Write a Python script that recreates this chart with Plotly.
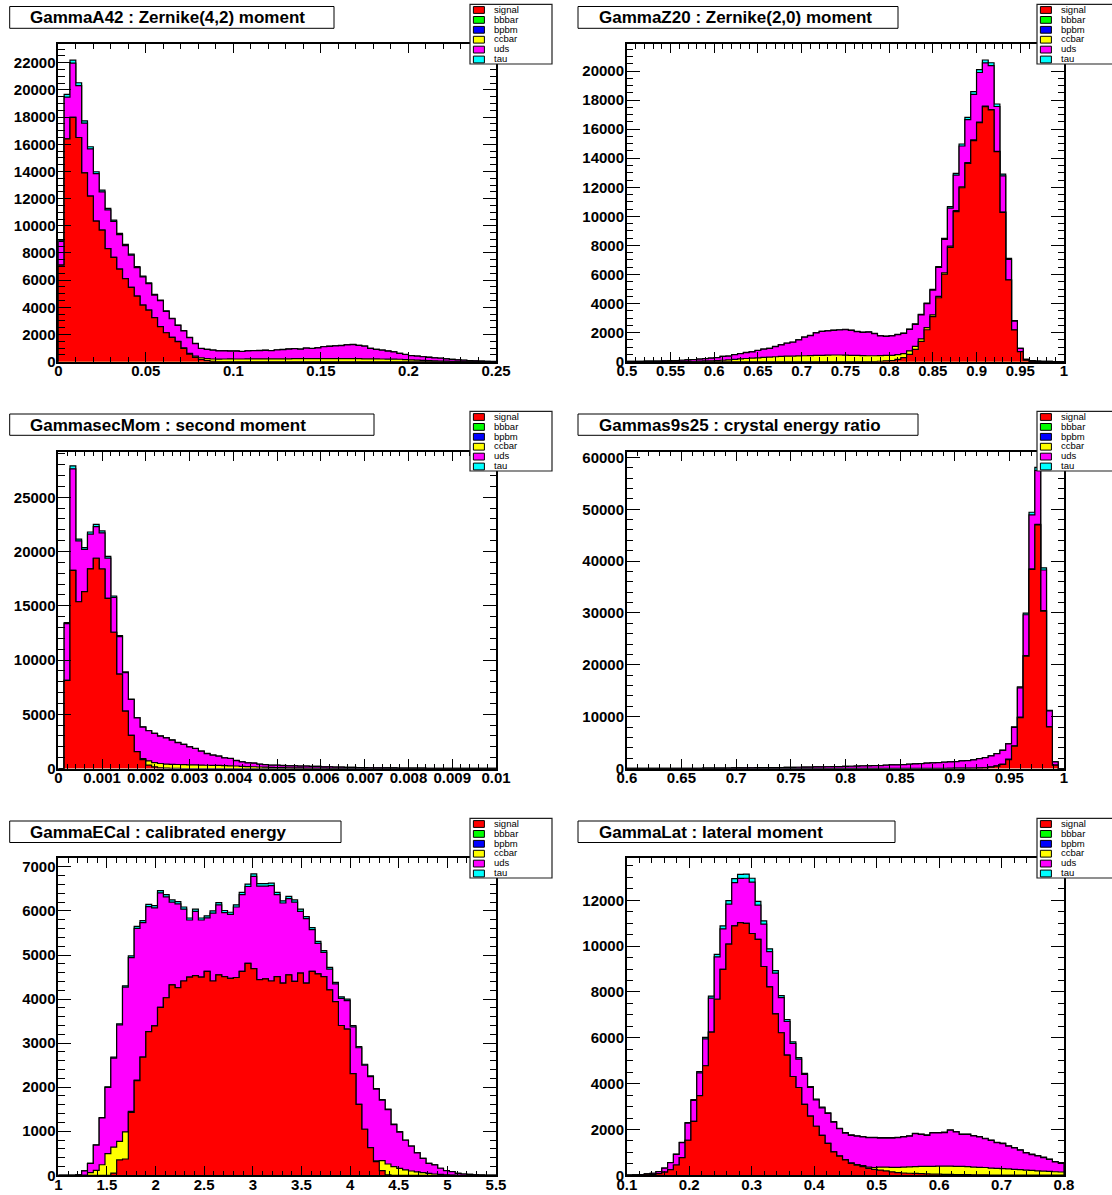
import numpy as np
import plotly.graph_objects as go

W, H = 1112, 1195
FONT = "Liberation Sans, Arial, Helvetica, sans-serif"

# ---------------- legend components ----------------
components = ["signal", "bbbar", "bpbm", "ccbar", "uds", "tau"]
comp_colors = ["#ff0000", "#00ff00", "#0000ff", "#ffff00", "#ff00ff", "#00ffff"]

# ---------------- GammaA42 (75 bins, 0 .. 0.25) ----------------
a42_title = "GammaA42 : Zernike(4,2) moment"
a42_range = [0.0, 0.25]
a42_signal = [7110, 16400, 17980, 16500, 13900, 12190, 10350, 9690, 8320, 7680,
              6820, 6110, 5470, 4830, 4170, 3800, 3240, 2580, 2130, 1790,
              1470, 980, 560, 320, 170, 75, 30, 15, 10, 5,
              0, 0, 0, 0, 0, 0, 0, 0, 0, 0,
              0, 0, 0, 0, 0, 0, 0, 0, 0, 0,
              0, 0, 0, 0, 0, 0, 0, 0, 0, 0,
              0, 0, 0, 0, 0, 0, 0, 0, 0, 0,
              0, 0, 0, 0, 0]
a42_ccbar = [0, 0, 0, 0, 0, 0, 0, 0, 0, 0,
             0, 0, 0, 0, 0, 0, 0, 0, 0, 0,
             20, 40, 60, 90, 120, 150, 170, 180, 190, 200,
             200, 200, 205, 205, 205, 210, 210, 210, 215, 215,
             220, 220, 220, 225, 225, 225, 225, 230, 230, 230,
             225, 220, 215, 210, 205, 200, 195, 190, 180, 160,
             140, 120, 100, 80, 60, 50, 40, 30, 20, 15,
             10, 5, 0, 0, 0]
a42_uds = [1750, 3070, 3990, 3820, 3650, 3470, 3490, 2810, 2850, 2640,
           2530, 2430, 2370, 2090, 2070, 1950, 1660, 1910, 1580, 1370,
           1180, 1240, 1150, 925, 680, 675, 650, 605, 600, 575,
           580, 550, 585, 605, 615, 630, 600, 650, 675, 715,
           740, 700, 780, 745, 795, 875, 905, 930, 960, 1010,
           1035, 980, 925, 770, 695, 650, 585, 530, 430, 370,
           300, 295, 265, 245, 225, 205, 165, 135, 115, 90,
           75, 60, 45, 25, 15]
a42_tau = [90, 200, 230, 210, 180, 160, 140, 130, 110, 100,
           90, 90, 80, 70, 60, 60, 50, 50, 40, 30,
           30, 20, 20, 15, 10, 10, 10, 10, 10, 10,
           10, 10, 10, 10, 10, 10, 10, 10, 10, 10,
           10, 10, 10, 10, 10, 10, 10, 10, 10, 10,
           10, 10, 10, 10, 10, 10, 10, 10, 10, 10,
           10, 5, 5, 5, 5, 5, 5, 5, 5, 5,
           5, 5, 5, 5, 5]
a42_xticks = ["0", "0.05", "0.1", "0.15", "0.2", "0.25"]
a42_yticks = ["0", "2000", "4000", "6000", "8000", "10000", "12000",
              "14000", "16000", "18000", "20000", "22000"]

# ---------------- GammaZ20 (75 bins, 0.5 .. 1) ----------------
z20_title = "GammaZ20 : Zernike(2,0) moment"
z20_range = [0.5, 1.0]
z20_signal = [0, 0, 0, 0, 0, 0, 0, 0, 0, 0,
              0, 0, 0, 0, 0, 0, 0, 0, 0, 0,
              0, 0, 0, 0, 0, 0, 0, 0, 0, 0,
              0, 0, 0, 0, 0, 0, 0, 0, 0, 0,
              0, 0, 10, 30, 60, 80, 160, 280, 500, 850,
              1400, 2200, 3100, 4400, 6030, 7870, 10320, 11970, 13650, 15210,
              16450, 17550, 17320, 14450, 10280, 5620, 2180, 700, 100, 20,
              0, 0, 0, 0, 0]
z20_ccbar = [0, 0, 0, 0, 0, 0, 0, 0, 0, 0,
             20, 30, 40, 50, 60, 80, 100, 130, 160, 190,
             220, 250, 270, 300, 320, 340, 360, 380, 390, 400,
             410, 420, 430, 440, 450, 460, 460, 450, 440, 430,
             420, 410, 400, 390, 370, 350, 320, 280, 240, 200,
             170, 140, 120, 100, 90, 80, 70, 60, 50, 50,
             40, 40, 30, 30, 20, 10, 10, 0, 0, 0,
             0, 0, 0, 0, 0]
z20_uds = [20, 25, 30, 35, 40, 45, 60, 70, 80, 100,
           100, 120, 140, 160, 180, 200, 270, 260, 320, 360,
           410, 430, 500, 560, 590, 700, 800, 890, 950, 1100,
           1280, 1380, 1560, 1640, 1670, 1700, 1720, 1750, 1720, 1640,
           1600, 1630, 1520, 1360, 1310, 1350, 1380, 1390, 1490, 1520,
           1650, 1650, 1710, 1980, 2290, 2620, 2450, 2810, 2950, 3140,
           3410, 2970, 3020, 3080, 2490, 1410, 600, 210, 60, 50,
           40, 30, 20, 10, 10]
z20_tau = [0, 0, 0, 0, 0, 0, 0, 0, 0, 0,
           0, 0, 0, 0, 0, 0, 0, 0, 0, 0,
           10, 10, 10, 10, 10, 10, 10, 10, 10, 10,
           10, 10, 10, 10, 10, 20, 20, 20, 20, 20,
           20, 20, 20, 20, 20, 20, 20, 20, 20, 30,
           30, 40, 50, 60, 80, 100, 120, 140, 160, 180,
           200, 200, 200, 170, 120, 70, 30, 10, 0, 0,
           0, 0, 0, 0, 0]
z20_xticks = ["0.5", "0.55", "0.6", "0.65", "0.7", "0.75", "0.8", "0.85", "0.9", "0.95", "1"]
z20_yticks = ["0", "2000", "4000", "6000", "8000", "10000", "12000",
              "14000", "16000", "18000", "20000"]

# ---------------- GammasecMom (75 bins, 0 .. 0.01) ----------------
sm_title = "GammasecMom : second moment"
sm_range = [0.0, 0.01]
sm_signal = [0, 8130, 18270, 15370, 16300, 18400, 19380, 18390, 15680, 12560,
             8700, 5280, 3060, 1550, 810, 315, 150, 60, 30, 20,
             10, 0, 0, 0, 0, 0, 0, 0, 0, 0,
             0, 0, 0, 0, 0, 0, 0, 0, 0, 0,
             0, 0, 0, 0, 0, 0, 0, 0, 0, 0,
             0, 0, 0, 0, 0, 0, 0, 0, 0, 0,
             0, 0, 0, 0, 0, 0, 0, 0, 0, 0,
             0, 0, 0, 0, 0]
sm_ccbar = [0, 0, 0, 0, 0, 0, 0, 0, 0, 0,
            0, 0, 0, 0, 100, 380, 400, 400, 380, 360,
            360, 350, 340, 330, 320, 300, 290, 280, 260, 250,
            230, 200, 180, 160, 140, 120, 100, 90, 80, 70,
            60, 50, 40, 40, 30, 30, 20, 20, 10, 10,
            10, 0, 0, 0, 0, 0, 0, 0, 0, 0,
            0, 0, 0, 0, 0, 0, 0, 0, 0, 0,
            0, 0, 0, 0, 0]
sm_uds = [0, 5220, 9350, 5610, 3890, 3210, 2920, 3330, 3710, 3220,
          3460, 3560, 3300, 3120, 2910, 2785, 2680, 2520, 2420, 2230,
          2020, 1865, 1655, 1515, 1280, 1080, 940, 860, 720, 670,
          500, 410, 340, 330, 250, 240, 200, 210, 190, 170,
          180, 170, 180, 150, 160, 120, 130, 110, 110, 100,
          90, 90, 80, 70, 60, 60, 50, 50, 40, 40,
          30, 30, 30, 20, 20, 20, 20, 10, 10, 10,
          10, 10, 10, 10, 10]
sm_tau = [0, 100, 280, 170, 160, 190, 200, 180, 160, 120,
          90, 60, 40, 30, 30, 20, 20, 20, 20, 20,
          20, 15, 15, 15, 10, 10, 10, 10, 10, 10,
          10, 10, 10, 10, 10, 10, 10, 10, 10, 10,
          10, 0, 0, 0, 0, 0, 0, 0, 0, 0,
          0, 0, 0, 0, 0, 0, 0, 0, 0, 0,
          0, 0, 0, 0, 0, 0, 0, 0, 0, 0,
          0, 0, 0, 0, 0]
sm_xticks = ["0", "0.001", "0.002", "0.003", "0.004", "0.005",
             "0.006", "0.007", "0.008", "0.009", "0.01"]
sm_yticks = ["0", "5000", "10000", "15000", "20000", "25000"]

# ---------------- Gammas9s25 (75 bins, 0.6 .. 1) ----------------
s9_title = "Gammas9s25 : crystal energy ratio"
s9_range = [0.6, 1.0]
s9_signal = [0, 0, 0, 0, 0, 0, 0, 0, 0, 0,
             0, 0, 0, 0, 0, 0, 0, 0, 0, 0,
             0, 0, 0, 0, 0, 0, 0, 0, 0, 0,
             0, 0, 0, 0, 0, 0, 0, 0, 0, 0,
             0, 0, 0, 0, 0, 0, 0, 0, 0, 0,
             0, 0, 0, 0, 0, 10, 15, 20, 30, 50,
             80, 130, 260, 450, 770, 1730, 4300, 9820, 21690, 38380,
             46980, 30360, 8020, 640, 0]
s9_ccbar = [0, 0, 0, 0, 0, 0, 0, 0, 0, 0,
            0, 0, 0, 0, 0, 0, 0, 0, 0, 0,
            0, 0, 0, 0, 0, 0, 0, 0, 0, 0,
            10, 10, 10, 10, 10, 10, 10, 10, 10, 10,
            10, 20, 20, 20, 20, 20, 20, 20, 20, 20,
            20, 30, 30, 30, 30, 30, 40, 40, 40, 40,
            40, 50, 50, 50, 60, 70, 80, 80, 100, 120,
            120, 80, 30, 10, 0]
s9_uds = [5, 5, 5, 5, 5, 10, 15, 20, 25, 30,
          35, 40, 50, 60, 70, 80, 90, 100, 110, 120,
          130, 140, 150, 160, 170, 180, 190, 200, 220, 240,
          250, 270, 290, 310, 330, 350, 370, 390, 420, 440,
          470, 480, 530, 550, 610, 670, 680, 740, 800, 870,
          930, 990, 1050, 1120, 1180, 1230, 1285, 1410, 1460, 1570,
          1790, 1920, 2110, 2370, 2670, 2960, 3560, 5660, 7860, 10400,
          10370, 7840, 3060, 620, 0]
s9_tau = [0, 0, 0, 0, 0, 0, 0, 0, 0, 0,
          0, 0, 0, 0, 0, 0, 0, 0, 0, 0,
          0, 0, 0, 0, 0, 0, 0, 0, 0, 0,
          0, 0, 0, 0, 0, 0, 0, 0, 0, 0,
          10, 10, 10, 10, 10, 10, 10, 10, 10, 10,
          10, 10, 10, 10, 10, 10, 10, 10, 10, 10,
          20, 20, 20, 20, 30, 50, 80, 170, 320, 520,
          620, 420, 120, 10, 0]
s9_xticks = ["0.6", "0.65", "0.7", "0.75", "0.8", "0.85", "0.9", "0.95", "1"]
s9_yticks = ["0", "10000", "20000", "30000", "40000", "50000", "60000"]

# ---------------- GammaECal (75 bins, 1 .. 5.5) ----------------
ec_title = "GammaECal : calibrated energy"
ec_range = [1.0, 5.5]
ec_signal = [0, 0, 0, 0, 0, 0, 0, 0, 0, 50,
             350, 370, 1430, 2150, 2680, 3260, 3390, 3810, 4030, 4320,
             4260, 4410, 4500, 4530, 4500, 4630, 4410, 4550, 4510, 4470,
             4490, 4630, 4810, 4690, 4440, 4460, 4410, 4510, 4360, 4550,
             4400, 4590, 4360, 4630, 4570, 4510, 4210, 3940, 3400, 3320,
             2310, 1610, 1045, 630, 310, 105, 10, 0, 0, 0,
             0, 0, 0, 0, 0, 0, 0, 0, 0, 0,
             0, 0, 0, 0, 0]
ec_ccbar = [0, 0, 0, 0, 0, 60, 110, 240, 490, 590,
            420, 615, 20, 10, 0, 0, 0, 0, 0, 0,
            0, 0, 0, 0, 0, 0, 0, 0, 0, 0,
            0, 0, 0, 0, 0, 0, 0, 0, 0, 0,
            0, 0, 0, 0, 0, 0, 0, 0, 0, 0,
            0, 0, 0, 0, 20, 228, 247, 197, 159, 121,
            98, 76, 60, 45, 30, 20, 10, 5, 0, 0,
            0, 0, 0, 0, 0]
ec_uds = [0, 0, 0, 10, 100, 210, 575, 1060, 1505, 2020,
          2645, 3285, 3490, 3445, 3055, 2840, 2680, 2600, 2290, 1880,
          1900, 1630, 1295, 1460, 1295, 1215, 1540, 1590, 1450, 1450,
          1600, 1740, 1745, 2095, 2125, 2105, 2165, 1860, 1820, 1730,
          1800, 1400, 1465, 945, 695, 550, 470, 405, 615, 645,
          1060, 1285, 1455, 1610, 1625, 1372, 1233, 953, 821, 674,
          562, 434, 325, 225, 205, 140, 95, 80, 45, 30,
          20, 10, 5, 0, 0]
ec_tau = [0, 0, 0, 0, 0, 0, 5, 10, 15, 20,
          25, 30, 40, 45, 45, 50, 50, 50, 50, 50,
          50, 50, 45, 50, 45, 45, 50, 50, 50, 50,
          50, 50, 55, 55, 55, 55, 55, 50, 50, 50,
          50, 50, 45, 45, 45, 40, 40, 35, 35, 35,
          30, 25, 20, 20, 15, 15, 10, 10, 10, 5,
          5, 5, 0, 0, 0, 0, 0, 0, 0, 0,
          0, 0, 0, 0, 0]
ec_xticks = ["1", "1.5", "2", "2.5", "3", "3.5", "4", "4.5", "5", "5.5"]
ec_yticks = ["0", "1000", "2000", "3000", "4000", "5000", "6000", "7000"]

# ---------------- GammaLat (75 bins, 0.1 .. 0.8) ----------------
lat_title = "GammaLat : lateral moment"
lat_range = [0.1, 0.8]
lat_signal = [0, 0, 5, 20, 40, 70, 140, 250, 450, 770,
              1530, 2350, 3480, 4780, 6250, 7680, 8980, 10090, 10880, 11020,
              10990, 10550, 10290, 9110, 8220, 7040, 6220, 5240, 4310, 3830,
              3090, 2580, 2140, 1740, 1390, 1020, 840, 670, 520, 440,
              380, 300, 260, 230, 190, 150, 120, 100, 90, 80,
              70, 60, 50, 50, 40, 40, 30, 30, 30, 20,
              20, 20, 10, 10, 10, 10, 10, 10, 5, 5,
              5, 5, 5, 5, 5]
lat_ccbar = [0, 0, 0, 0, 0, 0, 0, 0, 0, 0,
             0, 0, 0, 0, 0, 0, 0, 0, 0, 0,
             0, 0, 0, 0, 0, 0, 0, 0, 0, 0,
             0, 0, 0, 0, 0, 0, 10, 15, 20, 30,
             40, 60, 80, 130, 170, 200, 230, 260, 280, 300,
             320, 330, 340, 350, 360, 360, 360, 360, 350, 340,
             330, 320, 300, 290, 280, 270, 250, 240, 220, 210,
             190, 180, 170, 150, 140]
lat_uds = [10, 15, 15, 40, 50, 90, 170, 300, 460, 655,
           745, 915, 990, 1170, 1480, 1850, 1770, 1740, 1890, 1930,
           1970, 2240, 1500, 1850, 1540, 1780, 1530, 1470, 1440, 1240,
           1310, 1250, 1145, 1200, 1310, 1295, 1180, 1155, 1205, 1235,
           1255, 1285, 1305, 1265, 1265, 1275, 1295, 1315, 1335, 1435,
           1395, 1355, 1455, 1445, 1465, 1565, 1505, 1395, 1405, 1355,
           1325, 1255, 1215, 1125, 1095, 995, 935, 845, 750, 690,
           650, 590, 520, 430, 390]
lat_tau = [0, 0, 0, 0, 0, 0, 0, 0, 10, 15,
           25, 35, 50, 70, 90, 110, 130, 150, 170, 180,
           180, 170, 160, 140, 120, 110, 90, 80, 70, 60,
           50, 40, 35, 30, 30, 25, 20, 20, 15, 15,
           15, 15, 15, 15, 15, 15, 15, 15, 15, 15,
           15, 15, 15, 15, 15, 15, 15, 15, 15, 15,
           15, 15, 15, 15, 15, 15, 15, 15, 15, 15,
           15, 15, 15, 15, 15]
lat_xticks = ["0.1", "0.2", "0.3", "0.4", "0.5", "0.6", "0.7", "0.8"]
lat_yticks = ["0", "2000", "4000", "6000", "8000", "10000", "12000"]

# ---------------- layout geometry (pixels) ----------------
COL_X = [(58.3, 496.0), (626.8, 1064.0)]
ROW_Y = [(44.0, 361.7), (451.7, 768.5), (858.3, 1175.3)]
TITLE_Y = [(6.5, 28.3), (414.0, 435.3), (821.0, 842.5)]
TITLE_X0 = [9.7, 578.0]
LEG_X0 = [470.0, 1037.0]
LEG_Y0 = [4.3, 411.3, 818.3]

panels = [
    dict(title=a42_title, xr=a42_range, sig=a42_signal, cc=a42_ccbar, uds=a42_uds, tau=a42_tau,
         xt=a42_xticks, yt=a42_yticks, xminor=0.01, yminor=500, ymax=23380, col=0, row=0, tx1=334),
    dict(title=z20_title, xr=z20_range, sig=z20_signal, cc=z20_ccbar, uds=z20_uds, tau=z20_tau,
         xt=z20_xticks, yt=z20_yticks, xminor=0.01, yminor=500, ymax=21860, col=1, row=0, tx1=898),
    dict(title=sm_title, xr=sm_range, sig=sm_signal, cc=sm_ccbar, uds=sm_uds, tau=sm_tau,
         xt=sm_xticks, yt=sm_yticks, xminor=0.0002, yminor=1000, ymax=29200, col=0, row=1, tx1=374),
    dict(title=s9_title, xr=s9_range, sig=s9_signal, cc=s9_ccbar, uds=s9_uds, tau=s9_tau,
         xt=s9_xticks, yt=s9_yticks, xminor=0.01, yminor=2000, ymax=61100, col=1, row=1, tx1=918),
    dict(title=ec_title, xr=ec_range, sig=ec_signal, cc=ec_ccbar, uds=ec_uds, tau=ec_tau,
         xt=ec_xticks, yt=ec_yticks, xminor=0.1, yminor=200, ymax=7195, col=0, row=2, tx1=341),
    dict(title=lat_title, xr=lat_range, sig=lat_signal, cc=lat_ccbar, uds=lat_uds, tau=lat_tau,
         xt=lat_xticks, yt=lat_yticks, xminor=0.02, yminor=500, ymax=13830, col=1, row=2, tx1=895),
]


def px(x):
    return x / W


def py(y):
    return 1 - y / H


def step_xy(edges, vals):
    x = [edges[0]] + list(edges[:-1]) + [edges[-1], edges[-1]]
    y = [0.0] + list(vals) + [vals[-1], 0.0]
    return x, y


fig = go.Figure()
shapes = []
annotations = []
layout_axes = {}

for i, p in enumerate(panels, start=1):
    nb = len(p["sig"])
    edges = np.linspace(p["xr"][0], p["xr"][1], nb + 1)
    sig = np.array(p["sig"], float)
    cc = np.array(p["cc"], float)
    ud = np.array(p["uds"], float)
    ta = np.array(p["tau"], float)
    # THStack-style cumulative levels, drawn from the top one down
    levels = [
        (sig + cc + ud + ta, comp_colors[5]),
        (sig + cc + ud, comp_colors[4]),
        (sig + cc, comp_colors[3]),
        (sig, comp_colors[0]),
    ]
    for lev, col in levels:
        xs, ys = step_xy(edges, lev)
        fig.add_trace(go.Scatter(
            x=xs, y=ys, mode="lines", line=dict(shape="hv", color="black", width=1.2),
            fill="tozeroy", fillcolor=col, xaxis=f"x{i}", yaxis=f"y{i}",
            hoverinfo="skip", showlegend=False))

    c, r = p["col"], p["row"]
    x0, x1 = COL_X[c]
    y0, y1 = ROW_Y[r]
    xtv = [float(t) for t in p["xt"]]
    ytv = [float(t) for t in p["yt"]]
    xmin, xmax = p["xr"]
    nminx = int(round((xmax - xmin) / p["xminor"]))
    xminor_vals = [round(xmin + k * p["xminor"], 8) for k in range(nminx + 1)]
    nminy = int(p["ymax"] // p["yminor"])
    yminor_vals = [k * p["yminor"] for k in range(nminy + 1)]
    tickfont = dict(family=FONT, size=15, color="black", weight="bold")
    common = dict(showline=True, linecolor="black", linewidth=1.5, mirror="ticks",
                  ticks="inside", tickcolor="black", tickwidth=1, showgrid=False,
                  zeroline=False, fixedrange=True, tickfont=tickfont, tickmode="array",
                  automargin=False)
    layout_axes[f"xaxis{i}"] = dict(
        domain=[px(x0), px(x1)], range=[xmin, xmax], anchor=f"y{i}",
        tickvals=xtv, ticktext=p["xt"], ticklen=9.5, ticklabelstandoff=-5,
        minor=dict(tickmode="array", tickvals=xminor_vals, ticks="inside", ticklen=4.8,
                   tickcolor="black", tickwidth=1),
        **common)
    layout_axes[f"yaxis{i}"] = dict(
        domain=[py(y1), py(y0)], range=[0, p["ymax"]], anchor=f"x{i}",
        tickvals=ytv, ticktext=p["yt"], ticklen=13, ticklabelstandoff=-2,
        minor=dict(tickmode="array", tickvals=yminor_vals, ticks="inside", ticklen=6.5,
                   tickcolor="black", tickwidth=1),
        **common)

    # title box
    tx0 = TITLE_X0[c]
    ty0, ty1 = TITLE_Y[r]
    shapes.append(dict(type="rect", xref="paper", yref="paper",
                       x0=px(tx0), x1=px(p["tx1"]), y0=py(ty1), y1=py(ty0),
                       line=dict(color="black", width=1), fillcolor="white", layer="above"))
    annotations.append(dict(text=p["title"], xref="paper", yref="paper",
                            x=px(tx0 + 18.5), y=py((ty0 + ty1) / 2 + 0.5),
                            xanchor="left", yanchor="middle", showarrow=False,
                            font=dict(family=FONT, size=17, color="black", weight="bold")))

    # legend box
    lx0 = LEG_X0[c]
    ly0 = LEG_Y0[r]
    shapes.append(dict(type="rect", xref="paper", yref="paper",
                       x0=px(lx0), x1=px(lx0 + 82), y0=py(ly0 + 59.7), y1=py(ly0),
                       line=dict(color="#202020", width=1.2), fillcolor="white", layer="above"))
    for j, (name, colr) in enumerate(zip(components, comp_colors)):
        cy = ly0 + 5.7 + 9.9 * j
        shapes.append(dict(type="rect", xref="paper", yref="paper",
                           x0=px(lx0 + 3.4), x1=px(lx0 + 14.4),
                           y0=py(cy + 3.4), y1=py(cy - 3.4),
                           line=dict(color="black", width=1), fillcolor=colr, layer="above"))
        annotations.append(dict(text=name, xref="paper", yref="paper",
                                x=px(lx0 + 21.5), y=py(cy - 0.8),
                                xanchor="left", yanchor="middle", showarrow=False,
                                font=dict(family=FONT, size=9.5, color="black")))

fig.update_layout(
    width=W, height=H, margin=dict(l=0, r=0, t=0, b=0, pad=0),
    paper_bgcolor="white", plot_bgcolor="white", showlegend=False,
    shapes=shapes, annotations=annotations, **layout_axes)

fig.write_html("out.html")
